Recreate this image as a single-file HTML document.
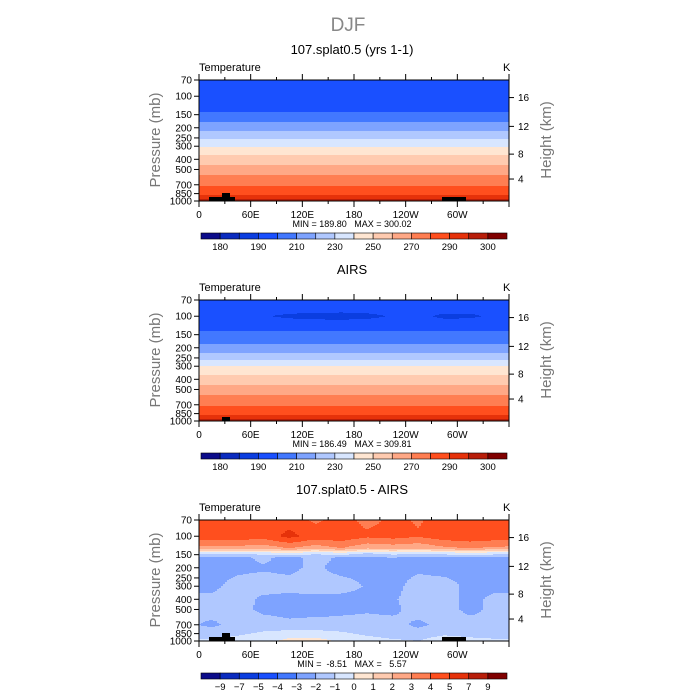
<!DOCTYPE html>
<html><head><meta charset="utf-8"><style>
html,body{margin:0;padding:0;background:#fff;}
svg{display:block;font-family:"Liberation Sans","DejaVu Sans",sans-serif;}
text{white-space:pre;}
</style></head><body>
<svg id="fig" width="700" height="700" viewBox="0 0 700 700">
<text x="348" y="31" text-anchor="middle" font-size="19" fill="#888">DJF</text>
</svg>
<script>
// ---------- data ----------
const tempLevels = [180,185,190,200,210,220,230,240,250,260,270,280,290,295,300];
const tempTickLabels = ["180","190","210","230","250","270","290","300"];
const diffLevels = [-9,-7,-5,-4,-3,-2,-1,0,1,2,3,4,5,7,9];
const diffTickLabels = ["-9","-7","-5","-4","-3","-2","-1","0","1","2","3","4","5","7","9"];
const palette = ["#0c0c8a","#0a2bbf","#0b3ee0","#1a50ff","#4278ff","#7ea3ff","#b0c8ff","#d8e6ff",
                 "#ffe6d2","#ffcbb0","#ffa886","#ff7e52","#ff4f1e","#e6320a","#b81e0a","#800000"];
const pressTicks = [70,100,150,200,250,300,400,500,700,850,1000];
const heightTicks = [16,12,8,4];
const heightTickPress = [103,194,357,617];
const lonTickLabels = ["0","60E","120E","180","120W","60W"];
const lonColumns = [15,45,75,105,135,165,195,225,255,285,315,345];
// panel 1 model profile
const modelPress = [70,100,140,175,215,255,305,360,450,560,720,880,950,1000];
const modelTemp  = [196,196,200,210,220,230,240,250,260,270,280,290,295,298];
// panel 2 AIRS profile
const airsPress = [70,85,100,115,130,150,185,225,260,300,360,450,560,720,870,950,1000];
const airsTemp  = [195,194,191,194,198,202,210,220,230,240,250,260,270,280,290,295,298];
const airs100Anom = [0.5,0.8,-0.5,-2.2,-3,-3.3,-2.6,-0.5,0.5,-2.4,-2.2,0.5];
// panel 3 difference grid (rows: diffPress, cols: lonColumns)
const diffPress = [70,100,130,145,160,200,300,400,500,700,850,1000];
const diffGrid = [
 [4.5,4.3,4.1,4.6,3.8,4.4,3.7,4.2,3.9,4.4,4.6,4.6],
 [4.7,4.6,4.5,5.3,4.6,4.7,4.2,4.4,4.1,4.6,4.8,4.6],
 [2.6,2.6,2.4,3.0,2.4,3.0,2.2,2.4,2.2,2.8,3.0,2.8],
 [-0.5,-0.8,-0.5,0,-0.8,-0.2,-1,-0.5,-0.8,-0.5,-0.3,-0.5],
 [-2.2,-2.3,-1.8,-2.4,-1.6,-2.2,-2.2,-2,-2.3,-2.2,-2.1,-2.2],
 [-2.3,-2.2,-2.1,-2.2,-1.8,-2.4,-2.4,-2.3,-2.2,-2.3,-2.2,-2.1],
 [-2.2,-1.7,-1.6,-1.7,-1.5,-1.5,-2.1,-2.3,-1.6,-1.7,-2.2,-2.2],
 [-1.8,-1.6,-2.2,-2.3,-2.3,-2.4,-2.4,-2.1,-1.6,-1.7,-2.2,-1.8],
 [-1.6,-1.7,-2.2,-2.3,-2.4,-2.2,-2.1,-2.2,-1.6,-1.7,-2.2,-1.8],
 [-2.2,-1.6,-1.6,-1.8,-1.6,-1.7,-1.7,-1.7,-2.2,-1.7,-1.7,-1.8],
 [-1.5,-1.2,-0.8,-0.5,-0.6,-0.8,-1.2,-1.5,-1.6,-1.2,-1.4,-1.5],
 [-0.8,-0.5,-0.3,0.3,0.5,-0.2,-0.5,-0.8,-1,-0.3,-0.6,-0.8]];
const panelTitles = ["107.splat0.5 (yrs 1-1)","AIRS","107.splat0.5 - AIRS"];
const minMax = [["189.80","300.02"],["186.49","309.81"],[" -8.51","  5.57"]];

// ---------- layout ----------
const NS="http://www.w3.org/2000/svg";
const svg=document.getElementById('fig');
const X0=199,X1=509,PH=121,panelTops=[80,300,520];
function el(tag,attrs,parent){const e=document.createElementNS(NS,tag);for(const k in attrs)e.setAttribute(k,attrs[k]);(parent||svg).appendChild(e);return e;}
const xScale=lon=>X0+(lon/360)*(X1-X0);
const yScale=(p,top)=>top+Math.log(p/70)/Math.log(1000/70)*PH;
function pFromY(y,top){return 70*Math.exp((y-top)/PH*Math.log(1000/70));}
function interp(xs,ys,x){if(x<=xs[0])return ys[0];for(let i=1;i<xs.length;i++){if(x<=xs[i]){const t=(x-xs[i-1])/(xs[i]-xs[i-1]);return ys[i-1]+t*(ys[i]-ys[i-1]);}}return ys[ys.length-1];}
function interpLog(ps,vs,p){return interp(ps.map(Math.log),vs,Math.log(p));}
function colorFor(v,levels){let k=0;while(k<levels.length&&v>=levels[k])k++;return palette[k];}
function lonInterp(arr,lon){const L=lonColumns.concat([lonColumns[0]+360]);const A=arr.concat([arr[0]]);
  let l=lon<lonColumns[0]?lon+360:lon;return interp(L,A,l);}

function fieldValue(panel,lon,p){
  if(panel===0){return interpLog(modelPress,modelTemp,p);}
  if(panel===1){let v=interpLog(airsPress,airsTemp,p);const w=Math.exp(-Math.pow(Math.log(p/100)/0.16,2));return v+w*lonInterp(airs100Anom,lon);}
  const row=diffPress.map((pp,i)=>lonInterp(diffGrid[i],lon));
  return interpLog(diffPress,row,p);
}

panelTops.forEach((top,pi)=>{
  const levels=pi===2?diffLevels:tempLevels;
  el('text',{x:352,y:top-26,'text-anchor':'middle','font-size':13,fill:'#000',}).textContent=panelTitles[pi];
  const g=el('g',{});
  const step=2;
  for(let y=top;y<top+PH;y+=1){
    const p=pFromY(y+0.5,top);
    let runStart=X0,runColor=null;
    for(let x=X0;x<=X1;x+=step){
      const c=x<X1?colorFor(fieldValue(pi,(x+1-X0)/(X1-X0)*360,p),levels):null;
      if(c!==runColor){
        if(runColor){el('rect',{x:runStart,y:y,width:x-runStart+0.3,height:1.3,fill:runColor},g);}
        runStart=x;runColor=c;
      }
    }
  }
  const topo = pi===1 ? [[222,4]] : [[209,4],[222,8],[442,4]];
  const widths = pi===1 ? [8] : [26,8,24];
  topo.forEach((t,i)=>{const r=el('rect',{x:t[0],y:top+PH-t[1],width:widths[i],height:t[1],fill:'#000'});
    });
  el('rect',{x:X0,y:top,width:X1-X0,height:PH,fill:'none',stroke:'#000','stroke-width':1,});
  const ax=el('g',{stroke:'#000','stroke-width':1,});
  for(let lon=0;lon<=360;lon+=30){const x=xScale(lon);const len=lon%60===0?6:3;
    el('line',{x1:x,y1:top,x2:x,y2:top-len},ax);el('line',{x1:x,y1:top+PH,x2:x,y2:top+PH+len},ax);}
  pressTicks.forEach(p=>{const y=yScale(p,top);el('line',{x1:X0,y1:y,x2:X0-5,y2:y},ax);
    const t=el('text',{x:X0-7,y:y+3.5,'text-anchor':'end','font-size':10,fill:'#000',stroke:'none'});
    t.textContent=p;});
  heightTicks.forEach((h,i)=>{const y=yScale(heightTickPress[i],top);el('line',{x1:X1,y1:y,x2:X1+5,y2:y},ax);
    const t=el('text',{x:X1+9,y:y+3.5,'font-size':10,fill:'#000',stroke:'none'});
    t.textContent=h;});
  lonTickLabels.forEach((l,i)=>{const t=el('text',{x:xScale(i*60),y:top+PH+17,'text-anchor':'middle','font-size':10,fill:'#000'});
    t.textContent=l;});
  el('text',{x:199,y:top-9,'font-size':11,fill:'#000',}).textContent='Temperature';
  el('text',{x:503,y:top-9,'font-size':11,fill:'#000',}).textContent='K';
  el('text',{x:0,y:0,'font-size':15,fill:'#777','text-anchor':'middle',transform:`translate(160,${top+60}) rotate(-90)`,}).textContent='Pressure (mb)';
  el('text',{x:0,y:0,'font-size':15,fill:'#777','text-anchor':'middle',transform:`translate(551,${top+60}) rotate(-90)`,}).textContent='Height (km)';
  el('text',{x:352,y:top+PH+26,'text-anchor':'middle','font-size':9,fill:'#000',}).textContent='MIN = '+minMax[pi][0]+'   MAX = '+minMax[pi][1];
  const cb=el('g',{});
  const cx0=201,cx1=507,cy=top+153,bw=(cx1-cx0)/16;
  palette.forEach((c,i)=>{const r=el('rect',{x:cx0+i*bw,y:cy,width:bw,height:6,fill:c,stroke:'#000','stroke-width':0.6},cb);
    });
  const labs=pi===2?diffTickLabels:tempTickLabels;
  labs.forEach((l,i)=>{const b=pi===2?i+1:2*i+1;const t=el('text',{x:cx0+b*bw,y:cy+17,'text-anchor':'middle','font-size':9.5,fill:'#000'},cb);
    t.textContent=l.replace('-','\u2212');});
});
</script>
</body></html>
